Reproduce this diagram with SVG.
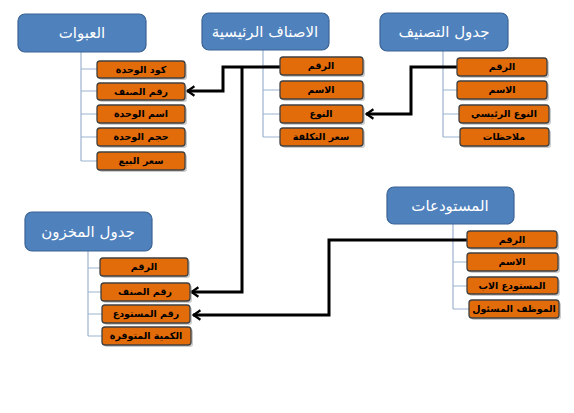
<svg xmlns="http://www.w3.org/2000/svg" width="574" height="413" viewBox="0 0 574 413">
<defs>
<style>
.hdr{fill:#4F81BD;stroke:#3A6393;stroke-width:1.2}
.hdr-t{fill:#fff;font-family:"DejaVu Sans",sans-serif;font-size:15px;text-anchor:middle;direction:rtl}
.box{fill:#E36C0A;stroke:#404040;stroke-width:1.3}
.sh{fill:#9a9a9a;opacity:0.5}
.box-t{fill:#000;font-family:"DejaVu Sans",sans-serif;font-size:9.5px;font-weight:bold;text-anchor:middle;direction:rtl}
.trunk{fill:none;stroke:#9DB3CF;stroke-width:1.2}
.link{fill:none;stroke:#000;stroke-width:3}
</style>
<marker id="arr" viewBox="0 0 10 12" refX="9" refY="6" markerWidth="3.3" markerHeight="4" markerUnits="strokeWidth" orient="auto">
<path d="M1.5,1.2 L8.5,6 L1.5,10.8" fill="none" stroke="#000" stroke-width="2.2"/>
</marker>
</defs>
<rect width="574" height="413" fill="#fff"/>

<g id="connectors">
<path class="trunk" d="M81,52 V161 M81,69 H97 M81,91 H97 M81,114 H97 M81,137 H97 M81,161 H97"/>
<path class="trunk" d="M263,50 V137 M263,66 H280 M263,90 H280 M263,114 H280 M263,137 H280"/>
<path class="trunk" d="M443,51 V137 M443,90 H457 M443,114 H459 M443,137 H460"/>
<path class="trunk" d="M88,251 V336 M88,268 H100 M88,292 H101 M88,314 H102 M88,336 H102"/>
<path class="trunk" d="M453,224 V309 M453,262 H467 M453,286 H467 M453,309 H469"/>
<path class="link" d="M280,67 H223 V91 H187" marker-end="url(#arr)"/>
<path class="link" d="M242,67 V292 H191" marker-end="url(#arr)"/>
<path class="link" d="M457,67 H411 V114 H366" marker-end="url(#arr)"/>
<path class="link" d="M467,240 H329 V315 H193" marker-end="url(#arr)"/>
</g>

<g id="node-abwat">
<rect class="hdr" x="18" y="14" width="128" height="38" rx="7"/>
<text class="hdr-t" x="82" y="38">العبوات</text>
<rect class="sh" x="99" y="63" width="88" height="17" rx="3"/>
<rect class="box" x="97" y="61" width="88" height="17" rx="3"/>
<text class="box-t" x="141" y="73">كود الوحدة</text>
<rect class="sh" x="99" y="85" width="88" height="17" rx="3"/>
<rect class="box" x="97" y="83" width="88" height="17" rx="3"/>
<text class="box-t" x="141" y="95">رقم الصنف</text>
<rect class="sh" x="99" y="107" width="88" height="18" rx="3"/>
<rect class="box" x="97" y="105" width="88" height="18" rx="3"/>
<text class="box-t" x="141" y="117">اسم الوحدة</text>
<rect class="sh" x="99" y="130" width="88" height="18" rx="3"/>
<rect class="box" x="97" y="128" width="88" height="18" rx="3"/>
<text class="box-t" x="141" y="140">حجم الوحدة</text>
<rect class="sh" x="99" y="154" width="88" height="18" rx="3"/>
<rect class="box" x="97" y="152" width="88" height="18" rx="3"/>
<text class="box-t" x="141" y="164">سعر البيع</text>
</g>

<g id="node-asnaf">
<rect class="hdr" x="202" y="13" width="127" height="37" rx="7"/>
<text class="hdr-t" x="265" y="37">الاصناف الرئيسية</text>
<rect class="sh" x="282" y="59" width="83" height="18" rx="3"/>
<rect class="box" x="280" y="57" width="83" height="18" rx="3"/>
<text class="box-t" x="321" y="69">الرقم</text>
<rect class="sh" x="282" y="83" width="83" height="18" rx="3"/>
<rect class="box" x="280" y="81" width="83" height="18" rx="3"/>
<text class="box-t" x="321" y="93">الاسم</text>
<rect class="sh" x="282" y="107" width="83" height="18" rx="3"/>
<rect class="box" x="280" y="105" width="83" height="18" rx="3"/>
<text class="box-t" x="321" y="117">النوع</text>
<rect class="sh" x="282" y="130" width="83" height="18" rx="3"/>
<rect class="box" x="280" y="128" width="83" height="18" rx="3"/>
<text class="box-t" x="321" y="140">سعر التكلفة</text>
</g>

<g id="node-tasnif">
<rect class="hdr" x="380" y="13" width="128" height="38" rx="7"/>
<text class="hdr-t" x="444" y="37">جدول التصنيف</text>
<rect class="sh" x="459" y="60" width="90" height="18" rx="3"/>
<rect class="box" x="457" y="58" width="90" height="18" rx="3"/>
<text class="box-t" x="502" y="70">الرقم</text>
<rect class="sh" x="459" y="83" width="90" height="18" rx="3"/>
<rect class="box" x="457" y="81" width="90" height="18" rx="3"/>
<text class="box-t" x="502" y="93">الاسم</text>
<rect class="sh" x="461" y="107" width="90" height="18" rx="3"/>
<rect class="box" x="459" y="105" width="90" height="18" rx="3"/>
<text class="box-t" x="504" y="117">النوع الرئيسي</text>
<rect class="sh" x="462" y="130" width="89" height="18" rx="3"/>
<rect class="box" x="460" y="128" width="89" height="18" rx="3"/>
<text class="box-t" x="504" y="140">ملاحظات</text>
</g>

<g id="node-makhzoun">
<rect class="hdr" x="25" y="212" width="127" height="39" rx="7"/>
<text class="hdr-t" x="88" y="237">جدول المخزون</text>
<rect class="sh" x="102" y="260" width="88" height="18" rx="3"/>
<rect class="box" x="100" y="258" width="88" height="18" rx="3"/>
<text class="box-t" x="144" y="270">الرقم</text>
<rect class="sh" x="103" y="285" width="89" height="18" rx="3"/>
<rect class="box" x="101" y="283" width="89" height="18" rx="3"/>
<text class="box-t" x="145" y="295">رقم الصنف</text>
<rect class="sh" x="104" y="307" width="88" height="18" rx="3"/>
<rect class="box" x="102" y="305" width="88" height="18" rx="3"/>
<text class="box-t" x="146" y="317">رقم المستودع</text>
<rect class="sh" x="104" y="329" width="89" height="18" rx="3"/>
<rect class="box" x="102" y="327" width="89" height="18" rx="3"/>
<text class="box-t" x="146" y="339">الكمية المتوفرة</text>
</g>

<g id="node-mostawdaat">
<rect class="hdr" x="387" y="187" width="127" height="37" rx="7"/>
<text class="hdr-t" x="450" y="211">المستودعات</text>
<rect class="sh" x="469" y="233" width="90" height="17" rx="3"/>
<rect class="box" x="467" y="231" width="90" height="17" rx="3"/>
<text class="box-t" x="512" y="243">الرقم</text>
<rect class="sh" x="469" y="255" width="91" height="18" rx="3"/>
<rect class="box" x="467" y="253" width="91" height="18" rx="3"/>
<text class="box-t" x="512" y="265">الاسم</text>
<rect class="sh" x="469" y="279" width="91" height="17" rx="3"/>
<rect class="box" x="467" y="277" width="91" height="17" rx="3"/>
<text class="box-t" x="512" y="289">المستودع الاب</text>
<rect class="sh" x="471" y="302" width="90" height="18" rx="3"/>
<rect class="box" x="469" y="300" width="90" height="18" rx="3"/>
<text class="box-t" x="514" y="312">الموظف المسئول</text>
</g>
</svg>
